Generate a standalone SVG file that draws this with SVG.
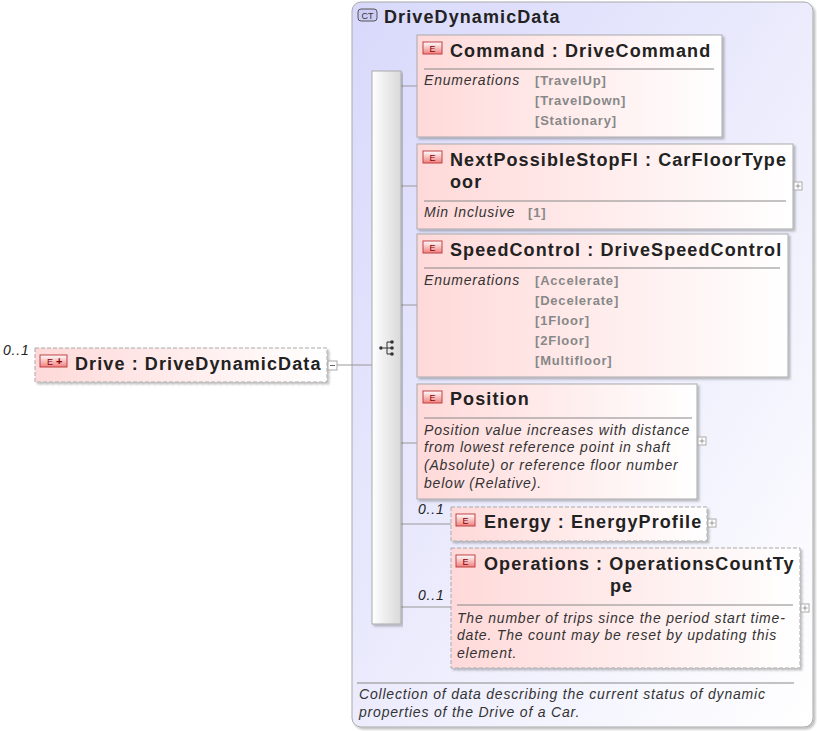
<svg xmlns="http://www.w3.org/2000/svg" width="817" height="731" viewBox="0 0 817 731">
<defs>
<linearGradient id="ct" x1="0" y1="0" x2="1" y2="1"><stop offset="0" stop-color="#d8d8fb"/><stop offset="1" stop-color="#ffffff"/></linearGradient>
<linearGradient id="el" x1="0" y1="0" x2="1" y2="0"><stop offset="0" stop-color="#ffd9d9"/><stop offset="1" stop-color="#ffffff"/></linearGradient>
<linearGradient id="bar" x1="0" y1="0" x2="1" y2="0"><stop offset="0" stop-color="#ffffff"/><stop offset="1" stop-color="#d9d9d9"/></linearGradient>
<linearGradient id="ic" x1="0" y1="0" x2="0" y2="1"><stop offset="0" stop-color="#ffffff"/><stop offset="1" stop-color="#f08080"/></linearGradient>
<filter id="sh" x="-5%" y="-5%" width="110%" height="120%"><feDropShadow dx="2" dy="2" stdDeviation="1" flood-color="#000" flood-opacity="0.25"/></filter>
</defs>
<style>
text{font-family:"Liberation Sans",Arial,sans-serif}
.t{font-size:18px;font-weight:bold;fill:#222;letter-spacing:1.1px}
.d{font-size:14px;font-style:italic;fill:#333;letter-spacing:0.8px}
.v{font-size:13px;font-weight:bold;fill:#888;letter-spacing:0.8px}
.m{font-size:14px;font-style:italic;fill:#222;letter-spacing:0.8px}
.e{fill:url(#el);stroke:#aaa;stroke-width:1;filter:url(#sh)}
.ed{fill:url(#el);stroke:#aaa;stroke-width:1;stroke-dasharray:4,2;filter:url(#sh)}
.sep{stroke:#888;stroke-width:1}
.c{stroke:#999;stroke-width:1;fill:none}
.ib{fill:url(#ic);stroke:#c04040;stroke-width:1}
.it{font-size:9px;fill:#800;font-family:"Liberation Sans",sans-serif}
.pb{fill:#fff;stroke:#aaa;stroke-width:1}
</style>
<g id="ct-DriveDynamicData">
<rect x="352" y="2" width="461" height="725" rx="9" fill="url(#ct)" stroke="#aaa" filter="url(#sh)"/>
<rect x="358" y="9" width="19" height="12" rx="3" fill="#ccccf5" stroke="#555"/>
<text x="367.5" y="18.5" text-anchor="middle" style="font-size:9px;fill:#333">CT</text>
<text x="384" y="23" class="t">DriveDynamicData</text>
<line x1="357" y1="683" x2="794" y2="683" class="sep"/>
<text x="359" y="699" class="d">Collection of data describing the current status of dynamic</text>
<text x="359" y="717" class="d">properties of the Drive of a Car.</text>
</g>
<g id="connectors">
<path class="c" d="M337 365H372M401 86H417M401 186H417M401 305H417M401 443H417M401 524H451M401 607H451"/>
</g>
<g id="sequence">
<rect x="372" y="71" width="29" height="553" fill="url(#bar)" stroke="#aaa" filter="url(#sh)"/>
<circle cx="381" cy="348" r="1.8" fill="#333"/>
<path d="M383 348H387M387 342V354M387 342H392M387 348H392M387 354H392" stroke="#333" fill="none"/>
<circle cx="392" cy="342" r="1.8" fill="#333"/><circle cx="392" cy="348" r="1.8" fill="#333"/><circle cx="392" cy="354" r="1.8" fill="#333"/>
</g>
<g id="Drive">
<text x="3" y="355" class="m">0..1</text>
<rect x="35" y="348" width="292" height="34" class="ed"/>
<rect x="40" y="355" width="27" height="12" class="ib"/>
<text x="47" y="364.5" class="it">E</text><text x="56" y="365" style="font-size:11px;font-weight:bold;fill:#800">+</text>
<text x="75" y="370" class="t">Drive : DriveDynamicData</text>
<rect x="328" y="361" width="9" height="9" class="pb"/><path d="M330 365.5H335" stroke="#666"/>
</g>
<g id="Command">
<rect x="417" y="35" width="305" height="102" class="e"/>
<rect x="423" y="42" width="19" height="12" class="ib"/><text x="429.5" y="51.5" class="it">E</text>
<text x="450" y="57" class="t">Command : DriveCommand</text>
<line x1="424" y1="69" x2="714" y2="69" class="sep"/>
<text x="424" y="85" class="d">Enumerations</text>
<text x="535" y="85" class="v">[TravelUp]</text>
<text x="535" y="105" class="v">[TravelDown]</text>
<text x="535" y="125" class="v">[Stationary]</text>
</g>
<g id="NextPossibleStopFloor">
<rect x="417" y="144" width="376" height="85" class="e"/>
<rect x="423" y="151" width="19" height="12" class="ib"/><text x="429.5" y="160.5" class="it">E</text>
<text x="450" y="166" class="t">NextPossibleStopFl : CarFloorType</text>
<text x="450" y="188" class="t">oor</text>
<line x1="424" y1="201" x2="786" y2="201" class="sep"/>
<text x="424" y="217" class="d">Min Inclusive</text>
<text x="528" y="217" class="v">[1]</text>
<rect x="794" y="182" width="8" height="8" class="pb"/><path d="M795.5 186H800.5M798 183.5V188.5" stroke="#999"/>
</g>
<g id="SpeedControl">
<rect x="417" y="234" width="371" height="143" class="e"/>
<rect x="423" y="241" width="19" height="12" class="ib"/><text x="429.5" y="250.5" class="it">E</text>
<text x="450" y="256" class="t">SpeedControl : DriveSpeedControl</text>
<line x1="424" y1="268" x2="780" y2="268" class="sep"/>
<text x="424" y="285" class="d">Enumerations</text>
<text x="535" y="285" class="v">[Accelerate]</text>
<text x="535" y="305" class="v">[Decelerate]</text>
<text x="535" y="325" class="v">[1Floor]</text>
<text x="535" y="345" class="v">[2Floor]</text>
<text x="535" y="365" class="v">[Multifloor]</text>
</g>
<g id="Position">
<rect x="417" y="384" width="280" height="115" class="e"/>
<rect x="423" y="391" width="19" height="12" class="ib"/><text x="429.5" y="400.5" class="it">E</text>
<text x="450" y="405" class="t">Position</text>
<line x1="424" y1="418" x2="692" y2="418" class="sep"/>
<text x="424" y="435" class="d">Position value increases with distance</text>
<text x="424" y="452" class="d">from lowest reference point in shaft</text>
<text x="424" y="470" class="d">(Absolute) or reference floor number</text>
<text x="424" y="488" class="d">below (Relative).</text>
<rect x="698" y="437" width="8" height="8" class="pb"/><path d="M699.5 441H704.5M702 438.5V443.5" stroke="#999"/>
</g>
<g id="Energy">
<text x="418" y="514" class="m">0..1</text>
<rect x="451" y="507" width="256" height="34" class="ed"/>
<rect x="456" y="514" width="19" height="12" class="ib"/><text x="462.5" y="523.5" class="it">E</text>
<text x="484" y="528" class="t">Energy : EnergyProfile</text>
<rect x="708" y="519" width="8" height="8" class="pb"/><path d="M709.5 523H714.5M712 520.5V525.5" stroke="#999"/>
</g>
<g id="Operations">
<text x="418" y="600" class="m">0..1</text>
<rect x="451" y="548" width="349" height="120" class="ed"/>
<rect x="456" y="555" width="19" height="12" class="ib"/><text x="462.5" y="564.5" class="it">E</text>
<text x="484" y="570" class="t">Operations : OperationsCountTy</text>
<text x="610" y="592" class="t">pe</text>
<line x1="457" y1="605" x2="793" y2="605" class="sep"/>
<text x="457" y="623" class="d">The number of trips since the period start time-</text>
<text x="457" y="640" class="d">date. The count may be reset by updating this</text>
<text x="457" y="658" class="d">element.</text>
<rect x="801" y="604" width="8" height="8" class="pb"/><path d="M802.5 608H807.5M805 605.5V610.5" stroke="#999"/>
</g>
</svg>
